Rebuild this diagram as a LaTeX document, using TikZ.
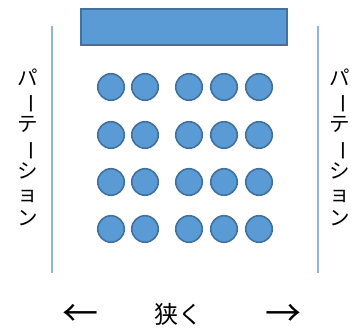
\documentclass[tikz,border=0pt]{standalone}
\usepackage{fontspec}
\newfontfamily\jpfont{Noto Sans CJK JP}
\usepackage{tikz}
\definecolor{seatblue}{RGB}{91,155,213}
\definecolor{seatedge}{RGB}{65,113,156}
\definecolor{wallblue}{RGB}{141,180,226}
\tikzset{
  seat/.style={circle, draw=seatedge, fill=seatblue, line width=1.6pt, minimum size=26.5pt, inner sep=0pt},
  wall/.style={wallblue, line width=1.5pt},
  walltext/.style={font=\jpfont\fontsize{20.5}{23.3}\selectfont, align=center, inner sep=0pt},
  bottomtext/.style={font=\jpfont\fontsize{24}{26}\selectfont, inner sep=0pt},
  arrowtext/.style={font=\jpfont\fontsize{36}{38}\selectfont, inner sep=0pt}
}
\newcommand{\tatebar}{\rotatebox[origin=c]{-90}{ー}}

\begin{document}
\begin{tikzpicture}[x=1pt, y=-1pt]
\useasboundingbox (0,0) rectangle (354,331);
\draw [draw=seatedge, fill=seatblue, line width=1.6pt] (81,9) rectangle (287,45) node (desk) {};

\draw [wall] (52,26) coordinate (lwtop) -- (52,273) coordinate (lwbot);
\draw [wall] (318,26) coordinate (rwtop) -- (318,273) coordinate (rwbot);

\foreach \r/\y in {1/87, 2/135, 3/182, 4/229}
  \foreach \c/\x in {1/111, 2/145, 3/189, 4/224, 5/259}
    \node [seat] (s\r\c) at (\x,\y) {};

\node [walltext] (lpart) at (28,147) {パ\\\tatebar\\テ\\\tatebar\\シ\\ョ\\ン};
\node [walltext] (rpart) at (340,147) {パ\\\tatebar\\テ\\\tatebar\\シ\\ョ\\ン};

\node [arrowtext] (larrow) at (80,315) {←};
\node [bottomtext] (narrow) at (178,314) {狭く};
\node [arrowtext] (rarrow) at (283,315) {→};
\end{tikzpicture}
\end{document}
